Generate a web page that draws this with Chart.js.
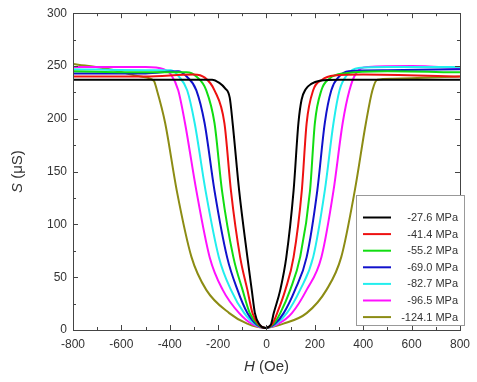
<!DOCTYPE html>
<html>
<head>
<meta charset="utf-8">
<script src="https://cdn.jsdelivr.net/npm/chart.js@4.4.0/dist/chart.umd.min.js"></script>
<style>
  html, body { margin: 0; padding: 0; background: #fff; }
  #wrap { width: 477px; height: 382px; }
</style>
</head>
<body>
<div id="wrap"><canvas id="magChart" width="477" height="382"></canvas></div>
<script>
// stress levels (legend)
var stressLabels = ['-27.6 MPa', '-41.4 MPa', '-55.2 MPa', '-69.0 MPa', '-82.7 MPa', '-96.5 MPa', '-124.1 MPa'];
var lineColors = ['#000000', '#ee1111', '#11dd11', '#1111cc', '#22eeee', '#ff11ff', '#8c8c14'];

// [H (Oe), S (uS)]
var curve276 = [[-800,237],[-400,237],[-225,237],[-195,234],[-172,229],[-152,220],[-140,196],[-113,132],[-79,69],[-61,38],[-48,16],[-28,5],[-5,2],[18,5],[30,16],[57,38],[82,69],[112,132],[132,196],[145,218],[162,228],[185,233],[220,236],[300,237],[800,237]];
var curve414 = [[-800,240],[-500,240],[-300,242],[-255,239],[-215,227],[-174,196],[-147,132],[-109,69],[-79,38],[-58,16],[-30,5],[-5,2],[25,6],[44,16],[78,38],[112,69],[146,132],[166,196],[193,227],[230,237],[280,241],[400,242],[800,240]];
var curve552 = [[-800,245],[-500,244],[-330,244],[-290,240],[-249,227],[-215,196],[-184,132],[-137,69],[-99,38],[-69,16],[-35,5],[-5,2],[30,6],[57,16],[98,38],[139,69],[180,132],[200,196],[227,227],[260,238],[320,243],[500,245],[800,244]];
var curve690 = [[-800,243],[-500,243],[-365,245],[-330,240],[-290,227],[-256,196],[-215,132],[-163,69],[-120,38],[-79,16],[-40,5],[-5,2],[35,6],[71,16],[118,38],[166,69],[210,132],[241,196],[268,227],[300,240],[340,245],[500,246],[800,247]];
var curve827 = [[-800,247],[-500,246],[-395,246],[-362,240],[-328,227],[-297,196],[-252,132],[-197,69],[-147,38],[-92,16],[-45,5],[-5,2],[40,6],[84,16],[139,38],[193,69],[241,132],[277,196],[302,227],[335,242],[380,248],[500,249],[800,249]];
var curve965 = [[-800,249],[-500,249],[-425,247],[-395,242],[-365,227],[-337,196],[-290,132],[-235,69],[-181,38],[-113,16],[-55,5],[-5,2],[50,6],[105,16],[166,38],[227,69],[277,132],[315,196],[343,227],[370,243],[420,249],[600,250],[800,248]];
var curve1241 = [[-800,252],[-650,247],[-520,240],[-466,236],[-453,227],[-419,196],[-371,132],[-310,69],[-249,38],[-154,16],[-80,6],[-5,2],[70,6],[166,16],[248,38],[309,69],[365,132],[411,196],[438,227],[458,237],[520,238],[800,240]];
var allCurves = [curve276, curve414, curve552, curve690, curve827, curve965, curve1241];

// axis ticks
var xTicks = [-800, -600, -400, -200, 0, 200, 400, 600, 800];
var yTicks = [0, 50, 100, 150, 200, 250, 300];

var axisColor = '#444';
var fontName = '"Liberation Sans", Arial, sans-serif';

var datasets = allCurves.map(function(pts, i) {
    return {
        label: stressLabels[i],
        data: pts.map(function(p) { return { x: p[0], y: p[1] }; }),
        borderColor: lineColors[i],
        backgroundColor: lineColors[i],
        borderWidth: 2,
        pointRadius: 0,
        showLine: true,
        cubicInterpolationMode: 'monotone'
    };
});

// frame, inward ticks, titles and the boxed legend
var framePlugin = {
    id: 'frame',
    afterDraw: function(chart) {
        var c = chart.ctx, a = chart.chartArea;
        var xs = chart.scales.x, ys = chart.scales.y;
        c.save();
        c.strokeStyle = axisColor;
        c.lineWidth = 1;
        c.strokeRect(Math.round(a.left) + 0.5, Math.round(a.top) + 0.5, Math.round(a.right - a.left), Math.round(a.bottom - a.top));

        c.beginPath();
        for (var v = xTicks[0]; v <= xTicks[xTicks.length - 1]; v += 100) {
            var px = Math.round(xs.getPixelForValue(v)) + 0.5;
            var len = (v % 200 === 0) ? 5 : 3;
            c.moveTo(px, a.bottom); c.lineTo(px, a.bottom - len);
            c.moveTo(px, a.top); c.lineTo(px, a.top + len);
        }
        for (var w = yTicks[0]; w <= yTicks[yTicks.length - 1]; w += 25) {
            var py = Math.round(ys.getPixelForValue(w)) + 0.5;
            var l2 = (w % 50 === 0) ? 5 : 3;
            c.moveTo(a.left, py); c.lineTo(a.left + l2, py);
            c.moveTo(a.right, py); c.lineTo(a.right - l2, py);
        }
        c.stroke();

        // axis titles
        c.fillStyle = '#333';
        c.textBaseline = 'middle';
        c.font = 'italic 15px ' + fontName;
        var hW = c.measureText('H').width;
        c.font = '15px ' + fontName;
        var restW = c.measureText(' (Oe)').width;
        var cx = (a.left + a.right) / 2 - (hW + restW) / 2;
        c.textAlign = 'left';
        c.font = 'italic 15px ' + fontName;
        c.fillText('H', cx, 367);
        c.font = '15px ' + fontName;
        c.fillText(' (Oe)', cx + hW, 367);

        c.save();
        c.translate(18, (a.top + a.bottom) / 2);
        c.rotate(-Math.PI / 2);
        c.font = 'italic 15px ' + fontName;
        var sW = c.measureText('S').width;
        c.font = '15px ' + fontName;
        var uW = c.measureText(' (μS)').width;
        var sx = -(sW + uW) / 2;
        c.font = 'italic 15px ' + fontName;
        c.fillText('S', sx, 0);
        c.font = '15px ' + fontName;
        c.fillText(' (μS)', sx + sW, 0);
        c.restore();

        // legend box
        var bx = 356, by = 195, bw = 108, bh = 130;
        c.fillStyle = '#fff';
        c.fillRect(bx, by, bw, bh);
        c.strokeStyle = '#999';
        c.strokeRect(bx + 0.5, by + 0.5, bw, bh);
        c.font = '11px ' + fontName;
        c.textAlign = 'right';
        chart.data.datasets.forEach(function(ds, i) {
            var ry = 217.5 + i * 16.6;
            c.strokeStyle = ds.borderColor;
            c.lineWidth = 2;
            c.beginPath();
            c.moveTo(363, ry); c.lineTo(391, ry);
            c.stroke();
            c.fillStyle = '#333';
            c.fillText(ds.label, 458, ry + 0.5);
        });
        c.restore();
    }
};

var ctx = document.getElementById('magChart').getContext('2d');
var magChart = new Chart(ctx, {
    type: 'scatter',
    data: { datasets: datasets },
    options: {
        responsive: false,
        animation: false,
        layout: { padding: { top: 10, right: 10, left: 0, bottom: 0 } },
        plugins: {
            legend: { display: false },
            tooltip: { enabled: false }
        },
        scales: {
            x: {
                type: 'linear',
                min: -800,
                max: 800,
                afterBuildTicks: function(scale) {
                    scale.ticks = xTicks.map(function(v) { return { value: v }; });
                },
                afterFit: function(scale) { scale.height = 52; },
                grid: { display: false, drawTicks: false },
                border: { display: false },
                ticks: { color: '#333', font: { family: fontName, size: 12 }, padding: 7, maxRotation: 0, autoSkip: false }
            },
            y: {
                type: 'linear',
                min: 0,
                max: 300,
                afterBuildTicks: function(scale) {
                    scale.ticks = yTicks.map(function(v) { return { value: v }; });
                },
                afterFit: function(scale) { scale.width = 73; },
                grid: { display: false, drawTicks: false },
                border: { display: false },
                ticks: { color: '#333', font: { family: fontName, size: 12 }, padding: 6, autoSkip: false }
            }
        }
    },
    plugins: [framePlugin]
});
</script>
</body>
</html>
